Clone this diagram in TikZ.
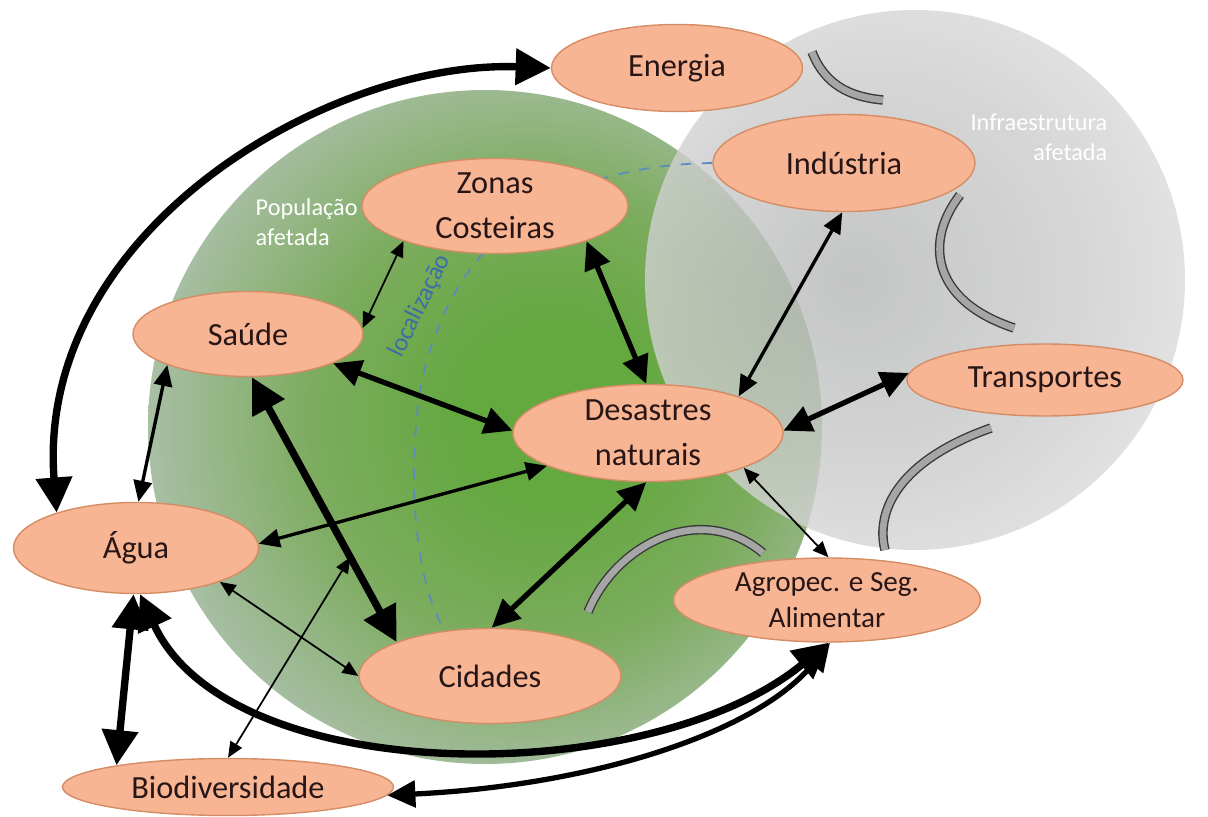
\documentclass[tikz,border=0pt]{standalone}
\usepackage{fontspec}
\setmainfont{Carlito}
\usetikzlibrary{shapes.geometric,arrows.meta,backgrounds}

\definecolor{peach}{RGB}{247,181,148}
\definecolor{peachline}{RGB}{214,140,100}
\definecolor{nodetext}{RGB}{40,22,22}
\definecolor{locblue}{RGB}{60,110,165}
\definecolor{dashblue}{RGB}{90,140,190}
\definecolor{greenA}{RGB}{100,168,64}
\definecolor{greenB}{RGB}{125,172,95}
\definecolor{greenC}{RGB}{165,189,160}
\definecolor{greenD}{RGB}{208,216,208}
\definecolor{greyA}{RGB}{180,182,182}
\definecolor{greyB}{RGB}{205,205,205}
\definecolor{greyC}{RGB}{230,230,230}

\pgfdeclareradialshading{popshade}{\pgfpoint{6bp}{1bp}}{color(0bp)=(greenA); color(7bp)=(greenA); color(17bp)=(greenB); color(27bp)=(greenC); color(34bp)=(greenD); color(50bp)=(greenD)}
\pgfdeclareradialshading{infrashade}{\pgfpoint{-6bp}{0bp}}{color(0bp)=(greyA); color(20bp)=(greyB); color(35bp)=(greyC); color(50bp)=(greyC)}

\pgfdeclarelayer{balls}
\pgfsetlayers{balls,background,main}

\def \popball{ (4.85,-4.27) circle (3.37cm) }
\def \infraball{ (9.15,-2.80) circle (2.70cm) }

\tikzset{
  topic/.style={ellipse, draw=peachline, line width=.4pt, fill=peach, text=nodetext,
    inner sep=0pt, align=center, font=\fontsize{9.2}{12.8}\selectfont},
  tag/.style={text=white, inner sep=0pt, font=\fontsize{6.9}{8.6}\selectfont},
  bandarc/.style={draw=gray!45!black, line width=.4pt, double=gray!70, double distance=1.9pt},
  thinlink/.style={line width=.5pt, >={Triangle[length=4.5pt,width=3.8pt]}, <->},
  midlink/.style={line width=.95pt, >={Triangle[length=6pt,width=5.2pt]}, <->},
  boldlink/.style={line width=1.5pt, >={Triangle[length=8pt,width=7.5pt]}, <->},
  heavylink/.style={line width=2.1pt, >={Triangle[length=10pt,width=10pt]}, <->}
}

\begin{document}
\begin{tikzpicture}

    \useasboundingbox (0,0) rectangle (12.08,-8.17);

    \begin{pgfonlayer}{balls}
      \shade[shading=popshade] \popball;
      \shade[shading=infrashade, fill opacity=.8] \infraball;
    \end{pgfonlayer}

    % labels of the two spheres
    \node[tag, anchor=west, align=left] (poplabel) at (2.55,-2.22) {População\\afetada};
    \node[tag, anchor=east, align=right] (infralabel) at (11.08,-1.37) {Infraestrutura\\afetada};
    \node[text=locblue, inner sep=0pt, rotate=64, font=\fontsize{7.2}{8}\selectfont] (loclabel) at (4.20,-3.06) {localização};

    % grey bands
    \draw[bandarc] (8.12,-0.52) .. controls (8.25,-0.85) and (8.50,-0.97) .. (8.83,-1.00);
    \draw[bandarc] (9.60,-1.95) .. controls (9.25,-2.40) and (9.30,-3.00) .. (10.14,-3.28);
    \draw[bandarc] (9.91,-4.28) .. controls (9.00,-4.60) and (8.75,-5.10) .. (8.85,-5.50);
    \draw[bandarc] (5.88,-6.12) .. controls (6.15,-5.45) and (7.00,-5.00) .. (7.63,-5.53);

    \node[topic, minimum width=2.51cm, minimum height=0.87cm] (energia) at (6.77,-0.68) {Energia};
    \node[topic, minimum width=2.62cm, minimum height=0.97cm] (industria) at (8.44,-1.63) {Indústria};
    \node[topic, minimum width=2.66cm, minimum height=0.95cm, inner ysep=-2pt] (zonas) at (4.95,-2.06) {Zonas\\Costeiras};
    \node[topic, minimum width=2.30cm, minimum height=0.85cm] (saude) at (2.48,-3.34) {Saúde};
    \node[topic, minimum width=2.70cm, minimum height=0.97cm, inner ysep=-2pt] (desastres) at (6.48,-4.33) {Desastres\\naturais};
    \node[topic, minimum width=2.76cm, minimum height=0.72cm] (transportes) at (10.45,-3.80) {Transportes};
    \node[topic, minimum width=2.45cm, minimum height=0.91cm] (agua) at (1.36,-5.48) {Água};
    \node[topic, minimum width=2.62cm, minimum height=0.95cm] (cidades) at (4.90,-6.76) {Cidades};
    \node[topic, minimum width=3.07cm, minimum height=0.84cm, inner ysep=-1pt,
      font=\fontsize{8.3}{10.3}\selectfont] (agro) at (8.27,-6.00) {Agropec. e Seg.\\Alimentar};
    \node[topic, minimum width=3.31cm, minimum height=0.57cm] (bio) at (2.28,-7.87) {Biodiversidade};

    \begin{scope}[on background layer]
      \draw[dashblue, dashed, line width=.5pt] (industria.180) .. controls (5.60,-1.65) and (4.50,-2.35) .. (4.20,-3.90)
        .. controls (4.05,-5.00) and (4.20,-5.90) .. (cidades.135);
    \end{scope}

    % links
    \draw[heavylink] (energia.180) .. controls (3.30,-0.60) and (0.35,-2.30) .. (agua.156);
    \draw[thinlink] (zonas.201) -- (saude.3);
    \draw[boldlink] (zonas.-21) -- (desastres.92);
    \draw[boldlink] (saude.-19) -- (desastres.179);
    \draw[midlink] (saude.201) -- (agua.87);
    \draw[heavylink] (saude.-85) -- coordinate[pos=.68] (midsc) (cidades.160);
    \draw[midlink] (desastres.198) -- (agua.2);
    \draw[boldlink] (desastres.-92) -- (cidades.88);
    \draw[midlink] (desastres.22) -- (industria.-92);
    \draw[boldlink] (desastres.1) -- (transportes.177);
    \draw[thinlink] (desastres.-20) -- (agro.88);
    \draw[thinlink] (agua.-22) -- (cidades.180);
    \draw[thinlink] (bio.90) -- (midsc);
    \draw[heavylink] (agua.-93) -- (bio.169);
    \draw[heavylink] (agua.-85) .. controls (2.30,-7.90) and (6.50,-7.90) .. (agro.-88);
    \draw[boldlink] (bio.-3) .. controls (6.00,-7.85) and (7.60,-7.30) .. (agro.-86);

  \end{tikzpicture}
\end{document}
